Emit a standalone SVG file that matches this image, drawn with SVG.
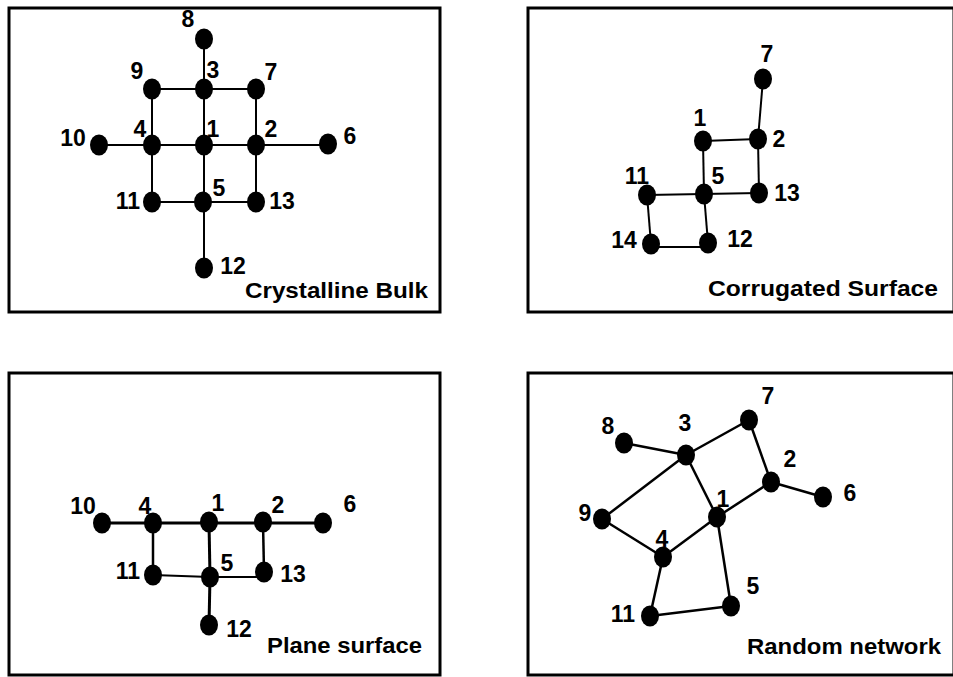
<svg xmlns="http://www.w3.org/2000/svg" width="953" height="677" viewBox="0 0 953 677">
<style>
.frame{fill:none;stroke:#000;stroke-width:3}
.e{stroke:#000;stroke-width:2;fill:none}
.e3{stroke:#000;stroke-width:3;fill:none}
.e25{stroke:#000;stroke-width:2.5;fill:none}
.n{fill:#000}
text{font-family:"Liberation Sans",Arial,sans-serif;font-weight:bold;font-size:22px;fill:#000}
.lb{text-anchor:middle;font-size:23px}
</style>
<rect width="953" height="677" fill="#fff"/>
<g id="frames">
<rect class="frame" x="9" y="8" width="431" height="304"/>
<rect class="frame" x="528" y="8" width="426" height="304"/>
<rect class="frame" x="9" y="373" width="431" height="302"/>
<rect class="frame" x="528" y="373" width="426" height="302"/>
</g>
<g id="connectors">
<line class="e" x1="204" y1="39" x2="204" y2="268"/>
<line class="e" x1="152" y1="89" x2="256" y2="89"/>
<line class="e" x1="99" y1="145" x2="328" y2="145"/>
<line class="e" x1="152" y1="202" x2="256" y2="202"/>
<line class="e" x1="152" y1="89" x2="152" y2="202"/>
<line class="e" x1="256" y1="89" x2="256" y2="202"/>
<line class="e" x1="763" y1="79" x2="758" y2="139"/>
<line class="e" x1="703" y1="141" x2="758" y2="139"/>
<line class="e" x1="703" y1="141" x2="704" y2="194"/>
<line class="e" x1="758" y1="139" x2="759" y2="193"/>
<line class="e" x1="647" y1="195" x2="759" y2="193"/>
<line class="e" x1="647" y1="195" x2="651" y2="244"/>
<line class="e" x1="704" y1="194" x2="708" y2="243"/>
<line class="e" x1="651" y1="247" x2="708" y2="247"/>
<line class="e3" x1="102" y1="523" x2="323" y2="523"/>
<line class="e25" x1="153" y1="523" x2="153" y2="575"/>
<line class="e3" x1="209" y1="522" x2="210" y2="577"/>
<line class="e3" x1="210" y1="577" x2="209" y2="625"/>
<line class="e25" x1="263" y1="522" x2="264" y2="572"/>
<line class="e" x1="153" y1="575" x2="210" y2="577"/>
<line class="e" x1="210" y1="577" x2="264" y2="577"/>
<line class="e25" x1="624" y1="443" x2="686" y2="455"/>
<line class="e25" x1="686" y1="455" x2="749" y2="420"/>
<line class="e25" x1="749" y1="420" x2="771" y2="482"/>
<line class="e25" x1="771" y1="482" x2="823" y2="497"/>
<line class="e25" x1="771" y1="482" x2="717" y2="517"/>
<line class="e25" x1="686" y1="455" x2="717" y2="517"/>
<line class="e25" x1="686" y1="455" x2="602" y2="519"/>
<line class="e25" x1="602" y1="519" x2="663" y2="557"/>
<line class="e25" x1="663" y1="557" x2="717" y2="517"/>
<line class="e25" x1="717" y1="517" x2="731" y2="606"/>
<line class="e25" x1="663" y1="557" x2="650" y2="616"/>
<line class="e25" x1="650" y1="616" x2="731" y2="606"/>
</g>
<g id="panel-crystalline-bulk">
<g id="cb-8"><ellipse class="n" cx="204" cy="39" rx="9" ry="10.5"/><text class="lb" x="188" y="27">8</text></g>
<g id="cb-3"><ellipse class="n" cx="204" cy="89" rx="9" ry="10.5"/><text class="lb" x="213" y="78">3</text></g>
<g id="cb-9"><ellipse class="n" cx="152" cy="89" rx="9" ry="10.5"/><text class="lb" x="137" y="79">9</text></g>
<g id="cb-7"><ellipse class="n" cx="256" cy="89" rx="9" ry="10.5"/><text class="lb" x="271" y="80">7</text></g>
<g id="cb-10"><ellipse class="n" cx="99" cy="145" rx="9" ry="10.5"/><text class="lb" x="73" y="146">10</text></g>
<g id="cb-4"><ellipse class="n" cx="152" cy="145" rx="9" ry="10.5"/><text class="lb" x="140" y="137">4</text></g>
<g id="cb-1"><ellipse class="n" cx="204" cy="145" rx="9" ry="10.5"/><text class="lb" x="213" y="137">1</text></g>
<g id="cb-2"><ellipse class="n" cx="256" cy="145" rx="9" ry="10.5"/><text class="lb" x="271" y="137">2</text></g>
<g id="cb-6"><ellipse class="n" cx="328" cy="144" rx="9" ry="10.5"/><text class="lb" x="350" y="144">6</text></g>
<g id="cb-11"><ellipse class="n" cx="152" cy="202" rx="9" ry="10.5"/><text class="lb" x="128" y="209">11</text></g>
<g id="cb-5"><ellipse class="n" cx="203" cy="202" rx="9" ry="10.5"/><text class="lb" x="219" y="196">5</text></g>
<g id="cb-13"><ellipse class="n" cx="256" cy="202" rx="9" ry="10.5"/><text class="lb" x="282" y="209">13</text></g>
<g id="cb-12"><ellipse class="n" cx="204" cy="268" rx="9" ry="10.5"/><text class="lb" x="233" y="274">12</text></g>
<text x="245" y="298" textLength="183" lengthAdjust="spacingAndGlyphs">Crystalline Bulk</text>
</g>
<g id="panel-corrugated-surface">
<g id="cs-7"><ellipse class="n" cx="763" cy="79" rx="9" ry="10.5"/><text class="lb" x="767" y="62">7</text></g>
<g id="cs-1"><ellipse class="n" cx="703" cy="141" rx="9" ry="10.5"/><text class="lb" x="700" y="126">1</text></g>
<g id="cs-2"><ellipse class="n" cx="758" cy="139" rx="9" ry="10.5"/><text class="lb" x="779" y="147">2</text></g>
<g id="cs-11"><ellipse class="n" cx="647" cy="195" rx="9" ry="10.5"/><text class="lb" x="637" y="184">11</text></g>
<g id="cs-5"><ellipse class="n" cx="704" cy="194" rx="9" ry="10.5"/><text class="lb" x="718" y="184">5</text></g>
<g id="cs-13"><ellipse class="n" cx="759" cy="193" rx="9" ry="10.5"/><text class="lb" x="787" y="201">13</text></g>
<g id="cs-14"><ellipse class="n" cx="651" cy="244" rx="9" ry="10.5"/><text class="lb" x="624" y="248">14</text></g>
<g id="cs-12"><ellipse class="n" cx="708" cy="243" rx="9" ry="10.5"/><text class="lb" x="740" y="247">12</text></g>
<text x="708" y="296" textLength="230" lengthAdjust="spacingAndGlyphs">Corrugated Surface</text>
</g>
<g id="panel-plane-surface">
<g id="ps-10"><ellipse class="n" cx="102" cy="523" rx="9" ry="10.5"/><text class="lb" x="83" y="514">10</text></g>
<g id="ps-4"><ellipse class="n" cx="153" cy="523" rx="9" ry="10.5"/><text class="lb" x="145" y="514">4</text></g>
<g id="ps-1"><ellipse class="n" cx="209" cy="522" rx="9" ry="10.5"/><text class="lb" x="218" y="511">1</text></g>
<g id="ps-2"><ellipse class="n" cx="263" cy="522" rx="9" ry="10.5"/><text class="lb" x="278" y="513">2</text></g>
<g id="ps-6"><ellipse class="n" cx="323" cy="523" rx="9" ry="10.5"/><text class="lb" x="350" y="512">6</text></g>
<g id="ps-11"><ellipse class="n" cx="153" cy="575" rx="9" ry="10.5"/><text class="lb" x="128" y="579">11</text></g>
<g id="ps-5"><ellipse class="n" cx="210" cy="577" rx="9" ry="10.5"/><text class="lb" x="227" y="571">5</text></g>
<g id="ps-13"><ellipse class="n" cx="264" cy="572" rx="9" ry="10.5"/><text class="lb" x="293" y="582">13</text></g>
<g id="ps-12"><ellipse class="n" cx="209" cy="625" rx="9" ry="10.5"/><text class="lb" x="239" y="637">12</text></g>
<text x="267" y="653" textLength="155" lengthAdjust="spacingAndGlyphs">Plane surface</text>
</g>
<g id="panel-random-network">
<g id="rn-8"><ellipse class="n" cx="624" cy="443" rx="9" ry="10.5"/><text class="lb" x="608" y="434">8</text></g>
<g id="rn-3"><ellipse class="n" cx="686" cy="455" rx="9" ry="10.5"/><text class="lb" x="685" y="431">3</text></g>
<g id="rn-7"><ellipse class="n" cx="749" cy="420" rx="9" ry="10.5"/><text class="lb" x="768" y="404">7</text></g>
<g id="rn-2"><ellipse class="n" cx="771" cy="482" rx="9" ry="10.5"/><text class="lb" x="790" y="467">2</text></g>
<g id="rn-6"><ellipse class="n" cx="823" cy="497" rx="9" ry="10.5"/><text class="lb" x="850" y="501">6</text></g>
<g id="rn-1"><ellipse class="n" cx="717" cy="517" rx="9" ry="10.5"/><text class="lb" x="723" y="507">1</text></g>
<g id="rn-9"><ellipse class="n" cx="602" cy="519" rx="9" ry="10.5"/><text class="lb" x="585" y="521">9</text></g>
<g id="rn-4"><ellipse class="n" cx="663" cy="557" rx="9" ry="10.5"/><text class="lb" x="662" y="547">4</text></g>
<g id="rn-5"><ellipse class="n" cx="731" cy="606" rx="9" ry="10.5"/><text class="lb" x="753" y="594">5</text></g>
<g id="rn-11"><ellipse class="n" cx="650" cy="616" rx="9" ry="10.5"/><text class="lb" x="623" y="622">11</text></g>
<text x="747" y="654" textLength="194" lengthAdjust="spacingAndGlyphs">Random network</text>
</g>
</svg>
